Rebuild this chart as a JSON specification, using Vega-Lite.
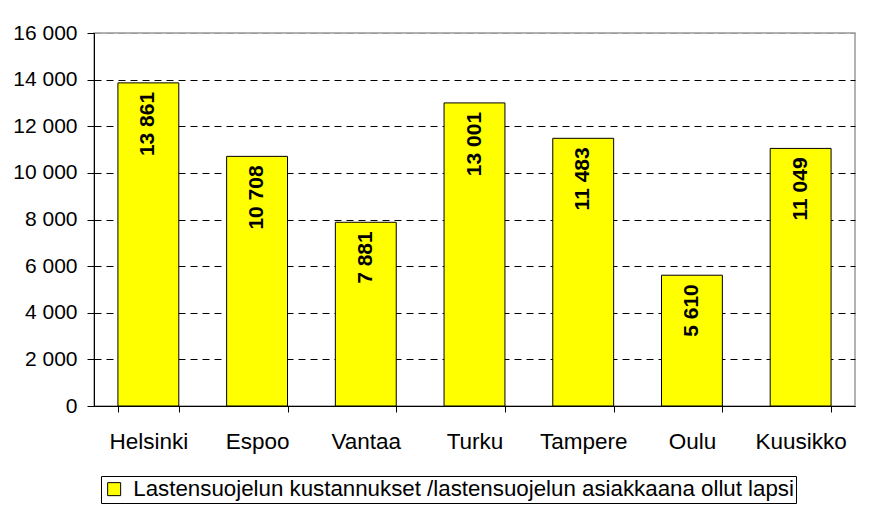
{
  "$schema": "https://vega.github.io/schema/vega-lite/v6.json",
  "width": 761,
  "height": 373,
  "autosize": {"type": "none"},
  "padding": {"left": 94, "top": 33, "right": 14, "bottom": 104},
  "background": "white",
  "config": {
    "font": "Liberation Sans",
    "locale": {"number": {"decimal": ",", "thousands": " ", "grouping": [3], "currency": ["", " €"]}},
    "view": {"stroke": "#999999", "strokeWidth": 1.5}
  },
  "data": {
    "values": [
      {"kaupunki": "Helsinki", "arvo": 13861, "sarja": "Lastensuojelun kustannukset /lastensuojelun asiakkaana ollut lapsi"},
      {"kaupunki": "Espoo", "arvo": 10708, "sarja": "Lastensuojelun kustannukset /lastensuojelun asiakkaana ollut lapsi"},
      {"kaupunki": "Vantaa", "arvo": 7881, "sarja": "Lastensuojelun kustannukset /lastensuojelun asiakkaana ollut lapsi"},
      {"kaupunki": "Turku", "arvo": 13001, "sarja": "Lastensuojelun kustannukset /lastensuojelun asiakkaana ollut lapsi"},
      {"kaupunki": "Tampere", "arvo": 11483, "sarja": "Lastensuojelun kustannukset /lastensuojelun asiakkaana ollut lapsi"},
      {"kaupunki": "Oulu", "arvo": 5610, "sarja": "Lastensuojelun kustannukset /lastensuojelun asiakkaana ollut lapsi"},
      {"kaupunki": "Kuusikko", "arvo": 11049, "sarja": "Lastensuojelun kustannukset /lastensuojelun asiakkaana ollut lapsi"}
    ]
  },
  "encoding": {
    "x": {
      "field": "kaupunki", "type": "nominal", "sort": null,
      "scale": {"paddingInner": 0.44, "paddingOuter": 0.22},
      "axis": {
        "title": null, "labelAngle": 0, "labelFontSize": 22.5, "labelColor": "black",
        "domainColor": "black", "tickColor": "black", "tickSize": 6, "tickBand": "extent",
        "labelPadding": 18, "grid": false
      }
    },
    "y": {
      "field": "arvo", "type": "quantitative",
      "scale": {"domain": [0, 16000], "nice": false},
      "axis": {
        "title": null, "values": [0, 2000, 4000, 6000, 8000, 10000, 12000, 14000, 16000],
        "format": ",d", "labelFontSize": 21, "labelColor": "black",
        "domainColor": "black", "tickColor": "black", "tickSize": 7, "labelPadding": 10,
        "gridColor": {"condition": {"test": "datum.value == 16000", "value": "#999999"}, "value": "black"},
        "gridDash": [7, 5], "gridWidth": 1
      }
    }
  },
  "layer": [
    {
      "mark": {"type": "bar", "stroke": "black", "strokeWidth": 1},
      "encoding": {
        "color": {
          "field": "sarja", "type": "nominal",
          "scale": {"range": ["#FFFF00"]},
          "legend": {
            "title": null, "orient": "none", "legendX": 7, "legendY": 443,
            "labelFontSize": 22.3, "labelColor": "black", "labelLimit": 1000,
            "symbolType": "square", "symbolSize": 169, "symbolStrokeColor": "black",
            "symbolStrokeWidth": 1, "symbolFillColor": "#FFFF00",
            "strokeColor": "black", "padding": 2, "labelOffset": 8
          }
        }
      }
    },
    {
      "mark": {"type": "text", "angle": -90, "align": "right", "baseline": "middle", "dx": -9, "fontWeight": "bold", "fontSize": 21, "color": "black"},
      "encoding": {
        "text": {"field": "arvo", "type": "quantitative", "format": ",d"}
      }
    }
  ]
}
